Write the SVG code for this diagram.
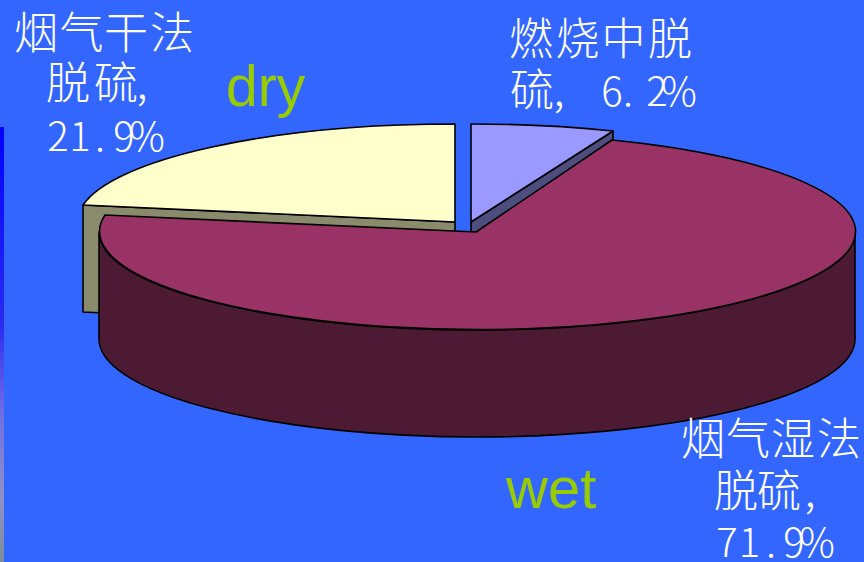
<svg xmlns="http://www.w3.org/2000/svg" width="864" height="562" viewBox="0 0 864 562">
<style>
.edge{stroke:#000;stroke-width:1.6;stroke-linejoin:round}
.lbl{font-family:"Noto Sans CJK SC","Noto Sans CJK JP",sans-serif;font-size:44px;font-weight:300;fill:#ffffff;text-anchor:middle}
.num{font-size:40px}
.eng{font-family:"Liberation Sans",Arial,sans-serif;fill:#99cc00}
</style>
<defs>
<linearGradient id="strip" x1="0" y1="0" x2="0" y2="1">
<stop offset="0" stop-color="#0000ff"/>
<stop offset="0.45" stop-color="#2a2af2"/>
<stop offset="0.65" stop-color="#6c6ce6"/>
<stop offset="0.85" stop-color="#9090c8"/>
<stop offset="1" stop-color="#7c8c9c"/>
</linearGradient>
</defs>
<rect x="0" y="0" width="864" height="562" fill="#3366ff"/>
<rect x="0" y="127" width="4" height="435" fill="url(#strip)"/>

<g id="slice-dry-side">
<polygon class="edge" points="83,205 455,222 455,329 83,312" fill="#8a8a6c"/>
</g>
<g id="slice-burn-side">
<polygon class="edge" points="471,222 613,131 613,238 471,329" fill="#4d4d80"/>
</g>
<g id="slice-dry">
<path class="edge" d="M455,222 L455,124 A378,98 0 0,0 83,205 Z" fill="#ffffcc"/>
</g>
<g id="slice-burn">
<path class="edge" d="M471,222 L471,124 A378,98 0 0,1 613,131 Z" fill="#9999ff"/>
</g>
<g id="slice-wet">
<path class="edge" d="M99,232 A378,98 0 0,0 855,232 L855,339 A378,98 0 0,1 99,339 Z" fill="#4c1a33"/>
<path class="edge" d="M476,232 L612,140 A378,98 0 1,1 105,215 Z" fill="#993366"/>
</g>

<g id="label-dry">
<text class="lbl" x="36 81.5 126 172" y="49">烟气干法</text>
<text class="lbl" x="68 116 142" y="99">脱硫,</text>
<text class="lbl num" x="58 80 100 124 147" y="151">21.9%</text>
<text class="eng" x="226" y="106" font-size="57">dry</text>
</g>
<g id="label-burn">
<text class="lbl" x="531 577.5 623.5 670" y="55">燃烧中脱</text>
<text class="lbl" x="532 559 590" y="106">硫, <tspan class="num" x="612 628 657 679">6.2%</tspan></text>
</g>
<g id="label-wet">
<text class="lbl" x="703 748 793 839" y="455">烟气湿法</text>
<text class="lbl" x="736 779 810" y="507">脱硫,</text>
<text class="lbl num" x="727 749.5 771 794 817" y="557">71.9%</text>
<text class="eng" x="506" y="508" font-size="58">wet</text>
</g>
<g id="connectors"></g>
</svg>
